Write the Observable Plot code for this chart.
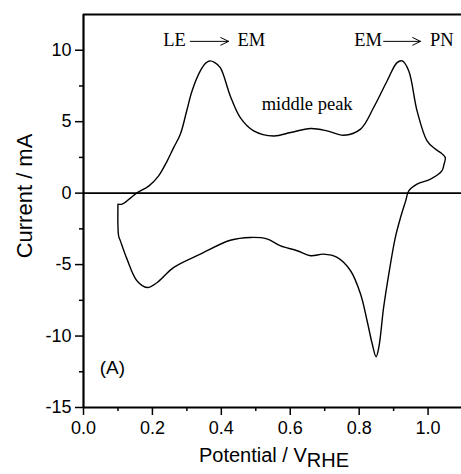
<!DOCTYPE html>
<html>
<head>
<meta charset="utf-8">
<script src="https://cdn.jsdelivr.net/npm/d3@7"></script>
<script src="https://cdn.jsdelivr.net/npm/@observablehq/plot@0.6"></script>
<style>
  html, body { margin: 0; padding: 0; background: #fff; }
  #chart svg { display: block; }
</style>
</head>
<body>
<div id="chart"></div>
<script>
// Cyclic voltammogram: potential (V vs RHE) and current (mA), one full cycle
const potential = [
  0.100, 0.112, 0.136, 0.154, 0.190, 0.218, 0.243, 0.262, 0.281, 0.300,
  0.315, 0.339, 0.355, 0.366, 0.380, 0.397, 0.426, 0.455, 0.494, 0.552,
  0.601, 0.659, 0.707, 0.755, 0.804, 0.842, 0.881, 0.910, 0.925, 0.944,
  0.968, 0.997, 1.020, 1.036, 1.050, 1.046, 1.040, 1.007, 0.968, 0.944,
  0.935, 0.920, 0.905, 0.886, 0.871, 0.857, 0.849, 0.838, 0.823, 0.804,
  0.775, 0.736, 0.697, 0.659, 0.620, 0.572, 0.532, 0.484, 0.426, 0.339,
  0.262, 0.214, 0.185, 0.155, 0.126, 0.107, 0.102, 0.100
];
const current = [
  -0.77, -0.77, -0.35, 0.00, 0.51, 1.21, 2.26, 3.20, 4.12, 5.80,
  7.15, 8.55, 9.10, 9.25, 9.15, 8.78, 6.80, 5.29, 4.36, 4.00,
  4.24, 4.52, 4.36, 4.05, 4.48, 5.99, 7.85, 9.13, 9.25, 8.55,
  5.76, 3.66, 3.10, 2.84, 2.49, 2.00, 1.56, 0.98, 0.63, 0.16,
  -0.54, -1.71, -3.10, -5.66, -8.00, -10.80, -11.45, -10.56, -8.93, -7.06,
  -5.43, -4.50, -4.27, -4.38, -4.03, -3.69, -3.20, -3.10, -3.30, -4.27,
  -5.20, -6.25, -6.60, -6.13, -4.60, -3.34, -3.00, -0.77
];

const xTicks = [0.0, 0.2, 0.4, 0.6, 0.8, 1.0];
const xMinor = [0.1, 0.3, 0.5, 0.7, 0.9];
const yTicks = [-15, -10, -5, 0, 5, 10];
const yMinor = [-12.5, -7.5, -2.5, 2.5, 7.5];

// Annotations
const noteText = ["LE", "EM", "EM", "PN", "middle peak"];
const noteX = [0.264, 0.487, 0.826, 1.040, 0.649];
const noteY = [10.72, 10.72, 10.72, 10.72, 6.24];
const arrowX1 = [0.310, 0.871];
const arrowX2 = [0.421, 0.978];
const arrowY = [10.62, 10.62];
const panelText = ["(A)"];
const panelX = [0.084];
const panelY = [-12.2];

const xLabel = "Potential / V";
const xLabelSub = "RHE";
const yLabel = "Current / mA";

const points = potential.map((p, i) => ({p, c: current[i]}));
const notes = noteText.map((t, i) => ({t, x: noteX[i], y: noteY[i]}));
const arrows = arrowX1.map((x1, i) => ({x1, x2: arrowX2[i], y: arrowY[i]}));
const panels = panelText.map((t, i) => ({t, x: panelX[i], y: panelY[i]}));

const sans = "'Liberation Sans', Arial, sans-serif";
const serif = "'Liberation Serif', 'Times New Roman', serif";

const chart = Plot.plot({
  width: 461,
  height: 474,
  marginLeft: 83,
  marginRight: 0,
  marginTop: 14,
  marginBottom: 67,
  style: {fontFamily: sans, background: "#fff", color: "#000"},
  x: {domain: [0, 1.097]},
  y: {domain: [-15, 12.5]},
  marks: [
    Plot.axisX(xTicks, {tickSize: 8, tickPadding: 6, tickFormat: d3.format(".1f"), fontSize: 18, label: null, strokeWidth: 1.5}),
    Plot.axisX(xMinor, {tickSize: 4, tickFormat: () => "", label: null, strokeWidth: 1.5}),
    Plot.axisY(yTicks, {tickSize: 8, tickPadding: 4, tickFormat: d => d, fontSize: 18, label: null, strokeWidth: 1.5}),
    Plot.axisY(yMinor, {tickSize: 4, tickFormat: () => "", label: null, strokeWidth: 1.5}),
    Plot.ruleY([0], {stroke: "#000", strokeWidth: 1.6}),
    Plot.ruleY([-15], {stroke: "#000", strokeWidth: 2.2}),
    Plot.ruleY([12.5], {stroke: "#000", strokeWidth: 2.2}),
    Plot.ruleX([0], {stroke: "#000", strokeWidth: 2.2}),
    Plot.line(points, {x: "p", y: "c", stroke: "#000", strokeWidth: 1.4, curve: "catmull-rom"}),
    Plot.text(notes, {x: "x", y: "y", text: "t", fontFamily: serif, fontSize: 18.5, fill: "#000"}),
    Plot.arrow(arrows, {x1: "x1", x2: "x2", y1: "y", y2: "y", stroke: "#000", strokeWidth: 1, headLength: 13, headAngle: 52}),
    Plot.text(panels, {x: "x", y: "y", text: "t", fontFamily: sans, fontSize: 19, fill: "#000"})
  ]
});

const svg = d3.select(chart);
svg.append("text")
  .attr("x", 274).attr("y", 462)
  .attr("text-anchor", "middle")
  .attr("font-family", sans).attr("font-size", 20).attr("fill", "#000")
  .text(xLabel)
  .append("tspan").attr("dy", 5).text(xLabelSub);
svg.append("text")
  .attr("transform", "translate(32,196) rotate(-90)")
  .attr("text-anchor", "middle")
  .attr("font-family", sans).attr("font-size", 22).attr("fill", "#000")
  .text(yLabel);

document.getElementById("chart").appendChild(chart);
</script>
</body>
</html>
